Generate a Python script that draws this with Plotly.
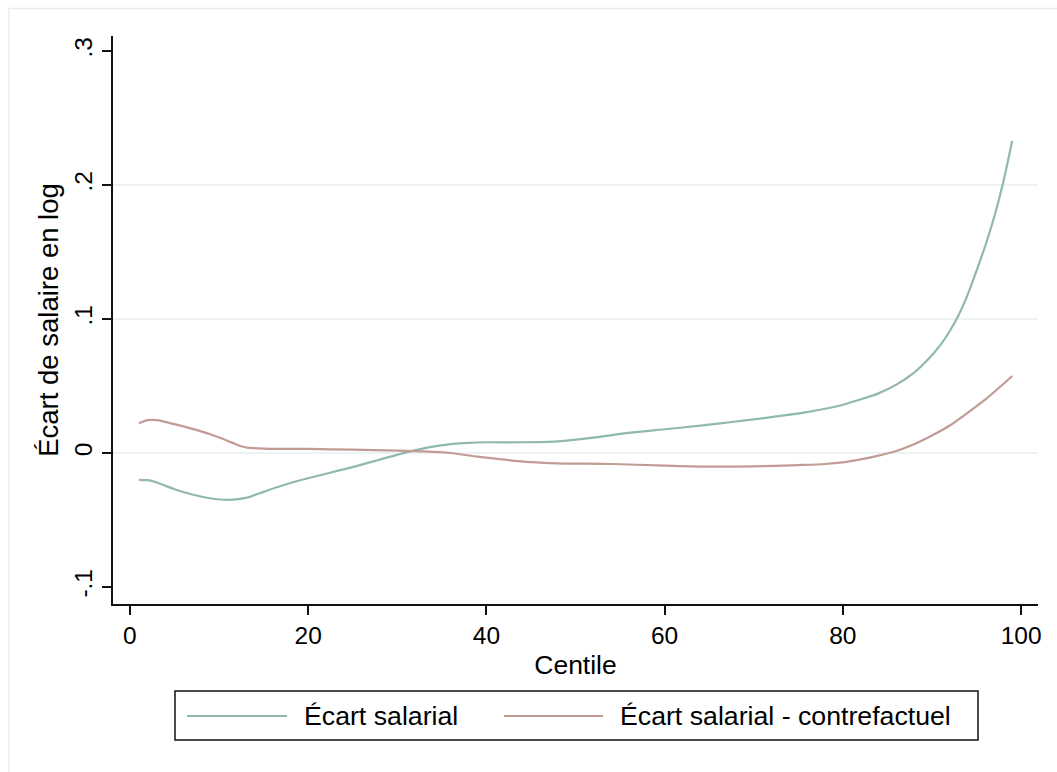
import plotly.graph_objects as go

# Centile positions and wage-gap values (log points)
centiles_obs = [1, 2, 3, 5, 7, 9, 11, 13, 15, 17, 19, 22, 25, 28, 31, 34, 36, 38, 40,
                44, 48, 52, 56, 60, 64, 68, 72, 76, 80, 82, 84, 86, 88, 90, 91, 92,
                93, 94, 95, 96, 97, 98, 99]
ecart_salarial = [-0.0200, -0.0203, -0.0220, -0.0270, -0.0310, -0.0338, -0.0350,
                  -0.0335, -0.0290, -0.0245, -0.0205, -0.0155, -0.0105, -0.0050,
                  0.0005, 0.0048, 0.0066, 0.0076, 0.0080, 0.0080, 0.0087, 0.0115,
                  0.0150, 0.0177, 0.0204, 0.0235, 0.0268, 0.0305, 0.0360, 0.0400,
                  0.0445, 0.0510, 0.0600, 0.0730, 0.0810, 0.0910, 0.1030, 0.1180,
                  0.1360, 0.1550, 0.1765, 0.2020, 0.2330]

centiles_cf = [1, 2, 3, 5, 7, 9, 11, 12, 13, 15, 20, 25, 30, 33, 36, 39, 42, 45, 48,
               54, 60, 65, 70, 75, 78, 80, 82, 84, 86, 88, 90, 92, 94, 96, 98, 99]
ecart_contrefactuel = [0.0222, 0.0245, 0.0245, 0.0215, 0.0180, 0.0140, 0.0090,
                       0.0062, 0.0042, 0.0033, 0.0030, 0.0025, 0.0018, 0.0012,
                       0.0000, -0.0027, -0.0050, -0.0068, -0.0077, -0.0082, -0.0094,
                       -0.0102, -0.0100, -0.0090, -0.0082, -0.0070, -0.0048, -0.0020,
                       0.0015, 0.0065, 0.0130, 0.0205, 0.0300, 0.0400, 0.0515, 0.0575]

series_names = ["Écart salarial", "Écart salarial - contrefactuel"]
series_colors = ["#90B8AE", "#C39B95"]

x_ticks = [0, 20, 40, 60, 80, 100]
y_ticks = [-0.1, 0, 0.1, 0.2, 0.3]
y_tick_labels = ["-.1", "0", ".1", ".2", ".3"]
y_grid = [0, 0.1, 0.2]

W, H = 1057, 772
L, R, T, B = 113, 19, 36, 168
PW, PH = W - L - R, H - T - B
FONT = "Liberation Sans, Arial, Helvetica, sans-serif"


def px(xp):
    return (xp - L) / PW


def py(yp):
    return (H - B - yp) / PH


fig = go.Figure()
fig.add_trace(go.Scatter(x=centiles_obs, y=ecart_salarial, mode="lines",
                         line=dict(color=series_colors[0], width=2.2, shape="spline",
                                   smoothing=0.7),
                         name=series_names[0], showlegend=False))
fig.add_trace(go.Scatter(x=centiles_cf, y=ecart_contrefactuel, mode="lines",
                         line=dict(color=series_colors[1], width=2.2, shape="spline",
                                   smoothing=0.7),
                         name=series_names[1], showlegend=False))

shapes = []
# horizontal grid lines
for g in y_grid:
    shapes.append(dict(type="line", xref="paper", yref="y", x0=0, x1=1, y0=g, y1=g,
                       line=dict(color="#E7EFF1", width=1.6), layer="below"))
# outer graph-region frame
shapes.append(dict(type="rect", xref="paper", yref="paper",
                   x0=px(9), x1=px(1070), y0=py(785), y1=py(8.5),
                   line=dict(color="#E8EEF0", width=1.5), layer="below"))
# legend box and keys
shapes.append(dict(type="rect", xref="paper", yref="paper",
                   x0=px(175), x1=px(978), y0=py(740), y1=py(691),
                   line=dict(color="#111111", width=1.5), fillcolor="white"))
key_x = [(187, 287), (504, 603)]
for (a, b), c in zip(key_x, series_colors):
    shapes.append(dict(type="line", xref="paper", yref="paper",
                       x0=px(a), x1=px(b), y0=py(716), y1=py(716),
                       line=dict(color=c, width=2.2)))

annotations = []
for xt, name in zip([302, 618], series_names):
    annotations.append(dict(xref="paper", yref="paper", x=px(xt), y=py(716),
                            text=name, showarrow=False, xanchor="left",
                            yanchor="middle", font=dict(family=FONT, size=26.7,
                                                        color="black")))

fig.update_layout(
    width=W, height=H,
    margin=dict(l=L, r=R, t=T, b=B),
    paper_bgcolor="white", plot_bgcolor="white",
    font=dict(family=FONT, color="black"),
    shapes=shapes, annotations=annotations,
    xaxis=dict(range=[-1.9, 101.9], tickvals=x_ticks, ticks="outside", ticklen=9,
               tickwidth=1.5, tickcolor="#111111", showgrid=False, zeroline=False,
               showline=True, linecolor="#111111", linewidth=1.5,
               tickfont=dict(size=24.5, family=FONT),
               title=dict(text="Centile", font=dict(size=26.5, family=FONT), standoff=7)),
    yaxis=dict(range=[-0.1127, 0.3112], tickvals=y_ticks, ticktext=y_tick_labels,
               ticks="outside", ticklen=9, tickwidth=1.5, tickcolor="#111111",
               tickangle=-90, showgrid=False, zeroline=False, showline=True,
               linecolor="#111111", linewidth=1.5,
               tickfont=dict(size=24.5, family=FONT),
               title=dict(text="Écart de salaire en log",
                          font=dict(size=27.5, family=FONT), standoff=4)),
)

fig.write_html("out.html")
